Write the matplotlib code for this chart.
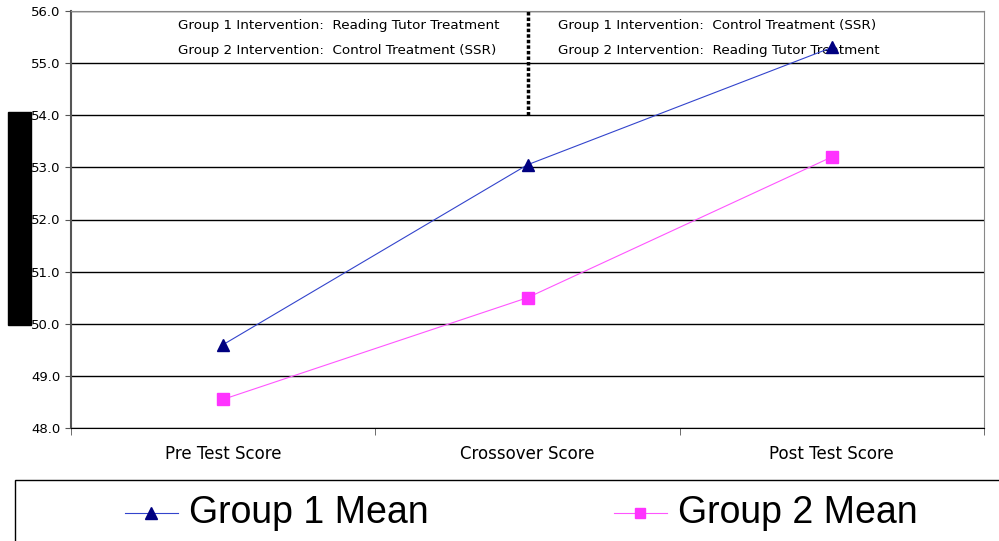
import matplotlib.pyplot as plt
from matplotlib.lines import Line2D
from matplotlib.patches import Rectangle

categories = ["Pre Test Score", "Crossover Score", "Post Test Score"]
group1 = [49.6, 53.05, 55.3]
group2 = [48.55, 50.5, 53.2]
series_names = ["Group 1 Mean", "Group 2 Mean"]
left_note = ["Group 1 Intervention:  Reading Tutor Treatment",
             "Group 2 Intervention:  Control Treatment (SSR)"]
right_note = ["Group 1 Intervention:  Control Treatment (SSR)",
              "Group 2 Intervention:  Reading Tutor Treatment"]

W, H = 999, 541
fig = plt.figure(figsize=(W / 100, H / 100), dpi=100)
ax = fig.add_axes([71 / W, 1 - 428 / H, (984 - 71) / W, (428 - 11) / H])

g1_style = dict(color="#3344cc", lw=0.8, marker="^", ms=9, mfc="#000080", mec="#000080")
g2_style = dict(color="#ff55ff", lw=0.8, marker="s", ms=8, mfc="#ff33ff", mec="#ff33ff")

x = range(len(categories))
ax.plot(x, group1, zorder=4, **g1_style)
ax.plot(x, group2, zorder=4, **g2_style)

ax.set_xlim(-0.5, 2.5)
ax.set_ylim(48, 56)
ax.set_yticks(range(48, 57))
ax.set_yticklabels([f"{v:.1f}" for v in range(48, 57)], fontsize=9.5)
ax.yaxis.grid(True, color="black", lw=1)
ax.set_axisbelow(True)

ax.set_xticks(list(x))
ax.set_xticklabels(categories, fontsize=12)
ax.tick_params(axis="x", length=0, pad=12)
ax.set_xticks([-0.5, 0.5, 1.5, 2.5], minor=True)
ax.tick_params(axis="x", which="minor", length=5, color="#555555")
ax.tick_params(axis="y", length=4, color="#555555")

for side in ["right", "top"]:
    ax.spines[side].set_color("#888888")
ax.spines["left"].set_color("#555555")
ax.spines["left"].set_linewidth(1.5)
ax.spines["bottom"].set_color("black")

# divider between the two phases
ax.plot([1, 1], [54, 56], color="black", lw=2.5, ls=(0, (1, 0.6)), zorder=3)

for i, line in enumerate(left_note):
    ax.text(-0.148, 55.73 - 0.48 * i, line, fontsize=9.7, ha="left", va="center")
for i, line in enumerate(right_note):
    ax.text(1.10, 55.73 - 0.48 * i, line, fontsize=9.7, ha="left", va="center")

# redacted y-axis label block
fig.patches.append(Rectangle((8 / W, 1 - 325 / H), 23 / W, 213 / H,
                             transform=fig.transFigure, color="black"))

# legend box drawn by hand along the bottom edge
fig.patches.append(Rectangle((15 / W, -0.05), 1.0, (541 - 480) / H + 0.05,
                             transform=fig.transFigure, fill=False,
                             edgecolor="black", lw=1))
leg_y = 1 - 513 / H
for name, style, x0 in [(series_names[0], g1_style, 125), (series_names[1], g2_style, 614)]:
    fig.add_artist(Line2D([x0 / W, (x0 + 53) / W], [leg_y, leg_y],
                          transform=fig.transFigure, color=style["color"], lw=style["lw"]))
    fig.add_artist(Line2D([(x0 + 26) / W], [leg_y], transform=fig.transFigure,
                          ls="none", marker=style["marker"], ms=style["ms"] - 1,
                          mfc=style["mfc"], mec=style["mec"]))
    fig.text((x0 + 64) / W, leg_y, name, family="Liberation Sans", fontsize=27,
             ha="left", va="center")

fig.savefig("out.png", dpi=100)
